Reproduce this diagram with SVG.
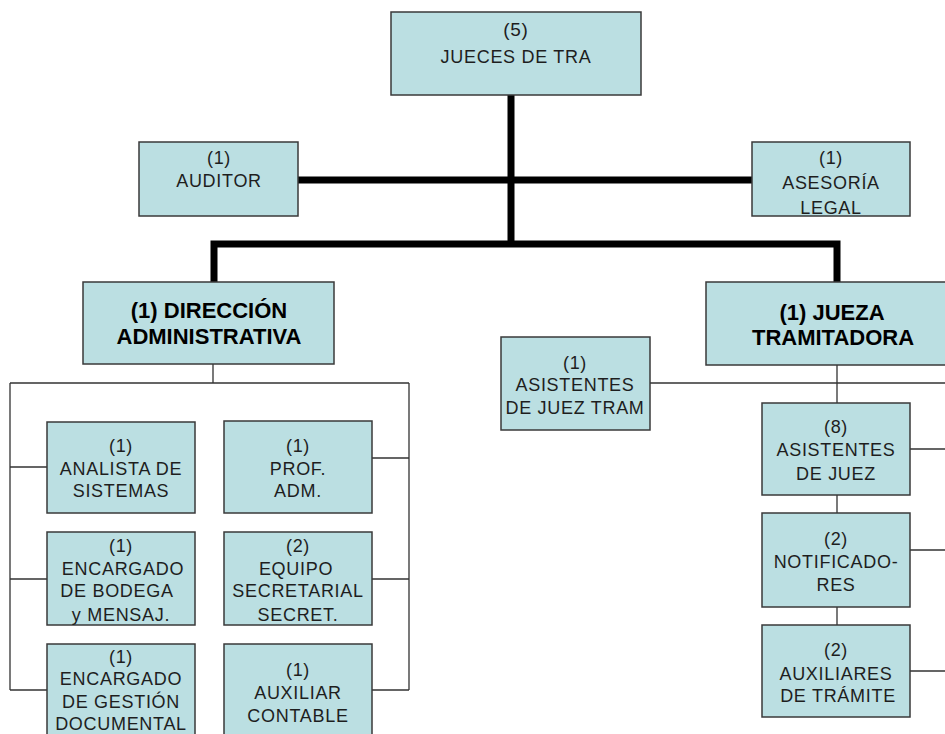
<svg xmlns="http://www.w3.org/2000/svg" width="945" height="734" viewBox="0 0 945 734">
<style>
.box{fill:#BBDFE2;stroke:#3a3a3a;stroke-width:1.5}
.t{font-family:"Liberation Sans",Arial,sans-serif;font-size:18px;letter-spacing:0.7px;fill:#1e1e1e;text-anchor:middle}
.b{font-family:"Liberation Sans",Arial,sans-serif;font-size:22px;font-weight:bold;fill:#000;text-anchor:middle}
.thick{fill:none;stroke:#000;stroke-width:7}
.thin{fill:none;stroke:#333;stroke-width:1.3}
</style>
<rect width="945" height="734" fill="#fff"/>
<g id="connectors">
<path class="thick" d="M511,95 V244"/>
<path class="thick" d="M298,180 H752"/>
<path class="thick" d="M214,282 V244 H837 V282"/>
<path class="thin" d="M213,364 V383 M10,383 H409 M10,383 V690 M409,383 V690"/>
<path class="thin" d="M10,467 H47 M10,579 H47 M10,690 H47"/>
<path class="thin" d="M372,458 H409 M372,579 H409 M372,690 H409"/>
<path class="thin" d="M837,365 V403 M650,383 H945 M837,495 V513 M837,607 V625"/>
<path class="thin" d="M910,449 H945 M910,550 H945 M910,671 H945"/>
</g>
<g id="jueces">
<rect class="box" x="391" y="12" width="250" height="83"/>
<text class="t" x="516" y="36" style="font-size:19px">(5)</text>
<text class="t" x="516" y="63">JUECES DE TRA</text>
</g>
<g id="auditor">
<rect class="box" x="139" y="142" width="159" height="74"/>
<text class="t" x="219" y="164">(1)</text>
<text class="t" x="219" y="187">AUDITOR</text>
</g>
<g id="asesoria">
<rect class="box" x="752" y="142" width="158" height="74"/>
<text class="t" x="831" y="164">(1)</text>
<text class="t" x="831" y="189">ASESORÍA</text>
<text class="t" x="831" y="214">LEGAL</text>
</g>
<g id="direccion">
<rect class="box" x="83" y="282" width="251" height="82"/>
<text class="b" x="209" y="318">(1) DIRECCIÓN</text>
<text class="b" x="209" y="344">ADMINISTRATIVA</text>
</g>
<g id="jueza">
<rect class="box" x="706" y="282" width="260" height="83"/>
<text class="b" x="832" y="320">(1) JUEZA</text>
<text class="b" x="833" y="345">TRAMITADORA</text>
</g>
<g id="analista">
<rect class="box" x="47" y="422" width="148" height="91"/>
<text class="t" x="121" y="452">(1)</text>
<text class="t" x="121" y="475">ANALISTA DE</text>
<text class="t" x="121" y="497">SISTEMAS</text>
</g>
<g id="prof">
<rect class="box" x="224" y="421" width="148" height="92"/>
<text class="t" x="298" y="452">(1)</text>
<text class="t" x="298" y="475">PROF.</text>
<text class="t" x="298" y="497">ADM.</text>
</g>
<g id="bodega">
<rect class="box" x="47" y="532" width="148" height="93"/>
<text class="t" x="121" y="552">(1)</text>
<text class="t" x="123" y="575">ENCARGADO</text>
<text class="t" x="117" y="597">DE BODEGA</text>
<text class="t" x="121" y="621">y MENSAJ.</text>
</g>
<g id="equipo">
<rect class="box" x="224" y="532" width="148" height="93"/>
<text class="t" x="298" y="552">(2)</text>
<text class="t" x="296" y="575">EQUIPO</text>
<text class="t" x="298" y="597">SECRETARIAL</text>
<text class="t" x="298" y="621">SECRET.</text>
</g>
<g id="gestion">
<rect class="box" x="47" y="644" width="148" height="96"/>
<text class="t" x="121" y="663">(1)</text>
<text class="t" x="121" y="685">ENCARGADO</text>
<text class="t" x="121" y="708">DE GESTIÓN</text>
<text class="t" x="121" y="730">DOCUMENTAL</text>
</g>
<g id="contable">
<rect class="box" x="224" y="644" width="148" height="96"/>
<text class="t" x="298" y="676">(1)</text>
<text class="t" x="298" y="699">AUXILIAR</text>
<text class="t" x="298" y="722">CONTABLE</text>
</g>
<g id="asistentes-tram">
<rect class="box" x="501" y="337" width="149" height="93"/>
<text class="t" x="575" y="369">(1)</text>
<text class="t" x="575" y="391">ASISTENTES</text>
<text class="t" x="575" y="414">DE JUEZ TRAM</text>
</g>
<g id="asistentes-juez">
<rect class="box" x="762" y="403" width="148" height="92"/>
<text class="t" x="836" y="433">(8)</text>
<text class="t" x="836" y="456">ASISTENTES</text>
<text class="t" x="836" y="480">DE JUEZ</text>
</g>
<g id="notificadores">
<rect class="box" x="762" y="513" width="148" height="94"/>
<text class="t" x="836" y="545">(2)</text>
<text class="t" x="836" y="568">NOTIFICADO-</text>
<text class="t" x="836" y="591">RES</text>
</g>
<g id="auxiliares">
<rect class="box" x="762" y="625" width="148" height="92"/>
<text class="t" x="836" y="656">(2)</text>
<text class="t" x="836" y="680">AUXILIARES</text>
<text class="t" x="838" y="702">DE TRÁMITE</text>
</g>
</svg>
